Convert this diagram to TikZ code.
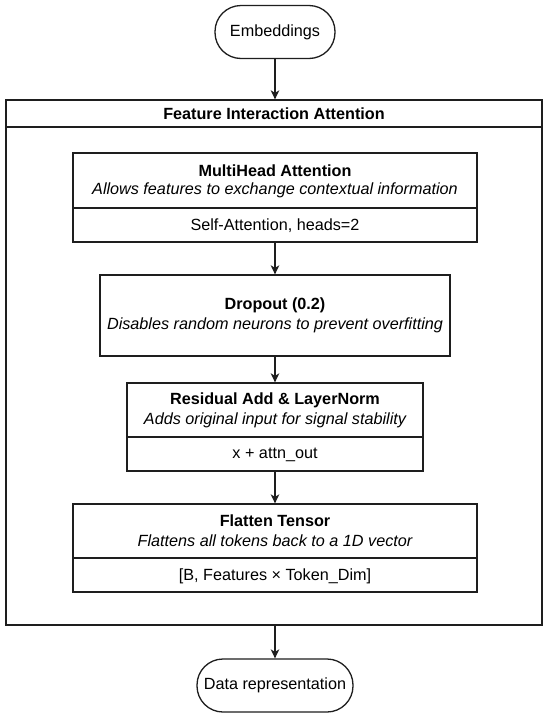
\documentclass[tikz,border=0pt]{standalone}
\usepackage{fontspec}
\setmainfont{Liberation Sans}
\usetikzlibrary{arrows.meta}
\definecolor{linecol}{RGB}{30,30,30}
\begin{document}
\begin{tikzpicture}[x=1pt,y=-1pt,
  box/.style={draw=linecol, line width=1.3pt, fill=white, inner sep=0pt},
  pill/.style={box, rounded corners=26pt},
  txt/.style={inner sep=0pt, font=\fontsize{16.2}{19}\selectfont, text=black},
  boldtxt/.style={inner sep=0pt, font=\fontsize{16.2}{19}\selectfont\bfseries, text=black},
  itxt/.style={inner sep=0pt, font=\fontsize{16.2}{19}\selectfont\itshape, text=black},
  divider/.style={draw=linecol, line width=1.3pt},
  arr/.style={draw=linecol, line width=1.3pt, -{Stealth[length=9pt,width=8.5pt,inset=2.5pt]}}
]
\useasboundingbox[fill=white] (0,0) rectangle (550,718);

% start / end
\node[pill, minimum width=120pt, minimum height=53pt] (emb) at (275,32) {};
\node[txt] (embt) at (275,32) {Embeddings};

% outer container
\node[box, minimum width=536pt, minimum height=525pt] (outer) at (274,362.5) {};
\draw[draw=linecol, line width=2pt] (outer.west |- 0,127) coordinate (otl) -- (outer.east |- 0,127) coordinate (otr);
\node[boldtxt] (outert) at (274,114) {Feature Interaction Attention};

% MultiHead Attention
\node[box, minimum width=404pt, minimum height=89pt] (mh) at (275,197.5) {};
\draw[divider] (mh.west |- 0,208) coordinate (mhl) -- (mh.east |- 0,208) coordinate (mhr);
\node[boldtxt] (mht) at (275,171) {MultiHead Attention};
\node[itxt] (mhi) at (275,190.5) {Allows features to exchange contextual information};
\node[txt] (mhs) at (275,226) {Self-Attention, heads=2};

% Dropout
\node[box, minimum width=350pt, minimum height=81pt] (dp) at (275,315.5) {};
\node[boldtxt] (dpt) at (275,305.5) {Dropout (0.2)};
\node[itxt] (dpi) at (275,325.5) {Disables random neurons to prevent overfitting};

% Residual
\node[box, minimum width=296pt, minimum height=88pt] (res) at (275,427) {};
\draw[divider] (res.west |- 0,437) coordinate (resl) -- (res.east |- 0,437) coordinate (resr);
\node[boldtxt] (rest) at (275,400) {Residual Add \& LayerNorm};
\node[itxt] (resi) at (275,420) {Adds original input for signal stability};
\node[txt] (ress) at (275,455) {x + attn\_out};

% Flatten
\node[box, minimum width=404pt, minimum height=88pt] (fl) at (275,548) {};
\draw[divider] (fl.west |- 0,558) coordinate (fll) -- (fl.east |- 0,558) coordinate (flr);
\node[boldtxt] (flt) at (275,521) {Flatten Tensor};
\node[itxt] (fli) at (275,541) {Flattens all tokens back to a 1D vector};
\node[txt] (fls) at (275,576) {[B, Features × Token\_Dim]};

% end
\node[pill, minimum width=156pt, minimum height=53pt] (dr) at (275,685.5) {};
\node[txt] (drt) at (275,685.5) {Data representation};

% connectors
\draw[arr] (emb.south) -- (emb.south |- outer.north);
\draw[arr] (mh.south) -- (dp.north);
\draw[arr] (dp.south) -- (res.north);
\draw[arr] (res.south) -- (fl.north);
\draw[arr] (dr.north |- outer.south) -- (dr.north);
\end{tikzpicture}
\end{document}
